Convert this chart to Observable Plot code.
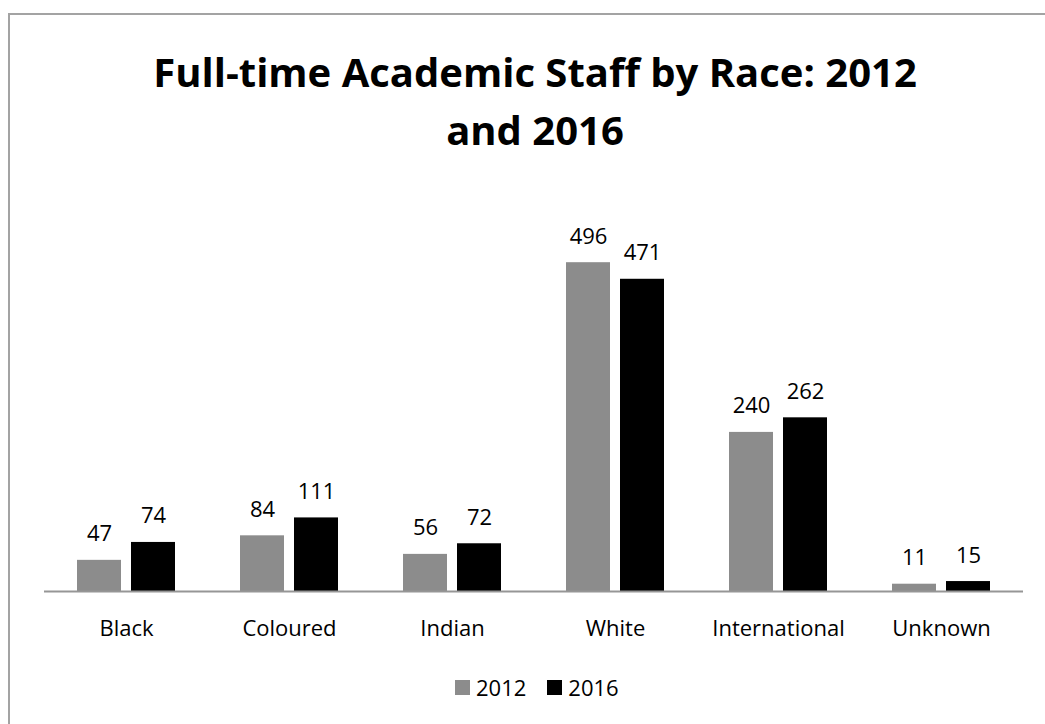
<!DOCTYPE html>
<html>
<head>
<meta charset="utf-8">
<script src="https://cdn.jsdelivr.net/npm/d3@7"></script>
<script src="https://cdn.jsdelivr.net/npm/@observablehq/plot@0.6"></script>
<style>
  html, body { margin: 0; padding: 0; background: #fff; width: 1045px; height: 724px; overflow: hidden; }
  body { position: relative; font-family: "Open Sans", sans-serif; color: #000; }
  #frame { position: absolute; left: 8px; top: 13px; width: 1100px; height: 800px;
           border-left: 2px solid #a3a3a3; border-top: 2px solid #a3a3a3; box-sizing: border-box; }
  #title { position: absolute; left: 0; top: 43px; width: 1070px; text-align: center;
           font-size: 40px; font-weight: 700; line-height: 58px; }
  #chart { position: absolute; left: 0; top: 180px; }
  #legend { position: absolute; left: 455px; top: 672px; display: flex; align-items: center;
            font-size: 22px; line-height: 30px; }
  .item { display: flex; align-items: center; margin-right: 21px; }
  .sw { width: 15px; height: 15px; margin-right: 6px; }
</style>
</head>
<body>
<div id="frame"></div>
<div id="title">Full-time Academic Staff by Race: 2012<br>and 2016</div>
<div id="chart"></div>
<div id="legend"></div>
<script>
const categories = ["Black", "Coloured", "Indian", "White", "International", "Unknown"];
const years = ["2012", "2016"];
const values2012 = [47, 84, 56, 496, 240, 11];
const values2016 = [74, 111, 72, 471, 262, 15];
const colors = ["#8c8c8c", "#000000"];

const d2012 = categories.map((c, i) => ({category: c, year: "2012", value: values2012[i]}));
const d2016 = categories.map((c, i) => ({category: c, year: "2016", value: values2016[i]}));

const plot = Plot.plot({
  width: 1045,
  height: 470,
  marginLeft: 44,
  marginRight: 22,
  marginTop: 0,
  marginBottom: 59,
  style: {fontFamily: "'Open Sans', sans-serif", fontSize: "22px", background: "transparent", color: "#000"},
  x: {domain: categories, paddingInner: 0.4, paddingOuter: 0.2, label: null},
  y: {domain: [0, 620], axis: null},
  marks: [
    Plot.barY(d2012, {x: "category", y: "value", fill: colors[0], insetRight: 54}),
    Plot.barY(d2016, {x: "category", y: "value", fill: colors[1], insetLeft: 54}),
    Plot.ruleY([0], {stroke: "#969696", strokeWidth: 2}),
    Plot.text(d2012, {x: "category", y: "value", text: d => String(d.value), dx: -27, dy: -19, lineAnchor: "bottom", fontSize: 22, fill: "#000"}),
    Plot.text(d2016, {x: "category", y: "value", text: d => String(d.value), dx: 27, dy: -19, lineAnchor: "bottom", fontSize: 22, fill: "#000"}),
    Plot.axisX({tickSize: 0, tickPadding: 29, fontSize: 22, label: null})
  ]
});
document.getElementById("chart").appendChild(plot);

const legend = document.getElementById("legend");
years.forEach((y, i) => {
  const item = document.createElement("div");
  item.className = "item";
  const sw = document.createElement("div");
  sw.className = "sw";
  sw.style.background = colors[i];
  const t = document.createElement("span");
  t.textContent = y;
  item.appendChild(sw);
  item.appendChild(t);
  legend.appendChild(item);
});
</script>
</body>
</html>
